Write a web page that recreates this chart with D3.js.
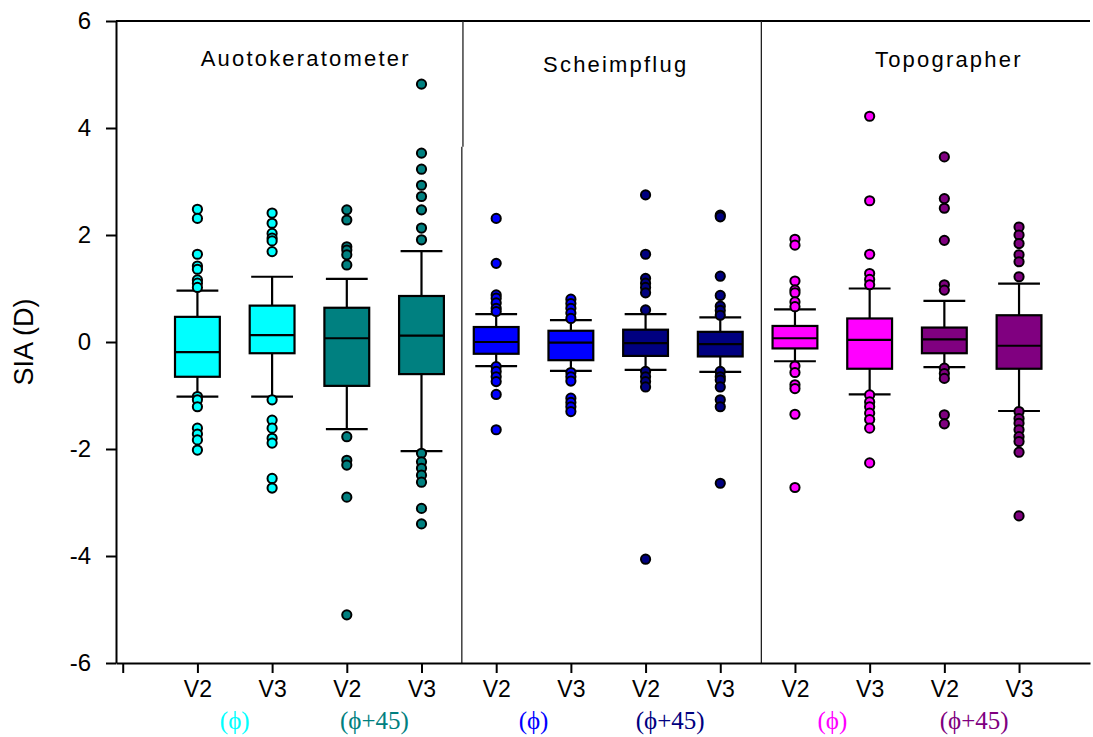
<!DOCTYPE html>
<html>
<head>
<meta charset="utf-8">
<script src="https://cdn.jsdelivr.net/npm/d3@7"></script>
<style>
  body { margin: 0; background: #fff; }
  svg { display: block; }
  .axis text { font-family: "Liberation Sans", Arial, sans-serif; fill: #000; }
  .axis path, .axis line { stroke: #000; stroke-width: 2px; }
</style>
</head>
<body>
<script>
// groups of instruments and the visit labels under each box
var groups = ["Auotokeratometer", "Scheimpflug", "Topographer"];
var visits = ["V2", "V3", "V2", "V3", "V2", "V3", "V2", "V3", "V2", "V3", "V2", "V3"];
var axisLabels = ["(\u03d5)", "(\u03d5+45)", "(\u03d5)", "(\u03d5+45)", "(\u03d5)", "(\u03d5+45)"];
var yTicks = [-6, -4, -2, 0, 2, 4, 6];

// box statistics, one entry per box (left to right)
var whiskerHigh = [0.96, 1.22, 1.18, 1.70, 0.52, 0.41, 0.52, 0.46, 0.61, 1.00, 0.77, 1.09];
var q3 =          [0.47, 0.68, 0.64, 0.86, 0.28, 0.21, 0.23, 0.19, 0.30, 0.44, 0.27, 0.50];
var median =      [-0.19, 0.13, 0.07, 0.12, 0.00, -0.01, -0.02, -0.04, 0.07, 0.04, 0.05, -0.07];
var q1 =          [-0.65, -0.21, -0.82, -0.60, -0.22, -0.34, -0.26, -0.27, -0.12, -0.50, -0.21, -0.50];
var whiskerLow =  [-1.02, -1.02, -1.63, -2.04, -0.45, -0.54, -0.52, -0.56, -0.36, -0.98, -0.47, -1.29];

var outliers = [
  [2.48, 2.31, 1.64, 1.42, 1.36, 1.16, 1.10, 1.02, -1.02, -1.08, -1.21, -1.61, -1.72, -1.83, -2.02],
  [2.41, 2.22, 2.03, 1.94, 1.89, 1.69, -1.08, -1.46, -1.61, -1.80, -1.89, -2.55, -2.73],
  [2.47, 2.28, 1.78, 1.72, 1.63, 1.44, -1.77, -2.21, -2.30, -2.90, -5.10],
  [4.82, 3.53, 3.23, 2.93, 2.72, 2.47, 2.13, 1.91, -2.08, -2.24, -2.36, -2.49, -2.62, -3.11, -3.40],
  [2.31, 1.47, 0.88, 0.82, 0.73, 0.63, 0.57, -0.46, -0.55, -0.65, -0.74, -0.98, -1.64],
  [0.80, 0.72, 0.63, 0.54, 0.44, -0.57, -0.65, -0.73, -1.05, -1.13, -1.21, -1.30],
  [2.75, 1.64, 1.19, 1.10, 1.02, 0.92, 0.60, -0.55, -0.65, -0.74, -0.84, -4.06],
  [2.37, 2.34, 1.23, 0.87, 0.67, 0.59, 0.50, -0.55, -0.65, -0.71, -0.84, -1.08, -1.21, -2.64],
  [1.92, 1.81, 1.14, 0.97, 0.92, 0.75, 0.66, -0.45, -0.57, -0.80, -0.87, -1.35, -2.72],
  [4.22, 2.64, 1.64, 1.28, 1.17, 1.07, -0.99, -1.12, -1.21, -1.33, -1.45, -1.61, -2.26],
  [3.46, 2.68, 2.50, 1.90, 1.07, 0.97, -0.49, -0.59, -0.68, -1.36, -1.53],
  [2.15, 2.00, 1.84, 1.63, 1.50, 1.22, -1.30, -1.43, -1.52, -1.64, -1.77, -1.86, -2.06, -3.25]
];

// one colour per pair of boxes
var colors = ["#00ffff", "#008080", "#0000ff", "#000080", "#ff00ff", "#800080"];

var W = 1093, H = 737;
var svg = d3.select("body").append("svg")
  .attr("width", W)
  .attr("height", H);

var x = d3.scaleLinear().domain([-0.09, 12.95]).range([116, 1090]);
var y = d3.scaleLinear().domain([-6, 6]).range([663, 21]);

var boxW = x(0.6) - x(0);
var capW = x(0.56) - x(0);

// top frame line
svg.append("line")
  .attr("x1", x.range()[0]).attr("x2", x.range()[1])
  .attr("y1", y(6)).attr("y2", y(6))
  .attr("stroke", "#000").attr("stroke-width", 2);

// dividers between instruments (first one has a small jog as in the original)
svg.append("line")
  .attr("x1", x(4.555)).attr("x2", x(4.555))
  .attr("y1", y(6)).attr("y2", y(3.65))
  .attr("stroke", "#222").attr("stroke-width", 1.3);
svg.append("line")
  .attr("x1", x(4.54)).attr("x2", x(4.54))
  .attr("y1", y(3.65)).attr("y2", y(-6))
  .attr("stroke", "#222").attr("stroke-width", 1.3);
svg.append("line")
  .attr("x1", x(8.55)).attr("x2", x(8.55))
  .attr("y1", y(6)).attr("y2", y(-6))
  .attr("stroke", "#222").attr("stroke-width", 1.3);

// instrument titles
var titleX = [2.45, 6.6, 11.06];
var titleY = [66, 72, 67];
svg.selectAll(".grp")
  .data(groups)
  .enter()
  .append("text")
  .attr("class", "grp")
  .attr("x", (d, i) => x(titleX[i]))
  .attr("y", (d, i) => titleY[i])
  .attr("text-anchor", "middle")
  .style("font-family", "'Liberation Sans', Arial, sans-serif")
  .style("font-size", "22px")
  .style("letter-spacing", "2.2px")
  .text(d => d);

// boxes
var boxes = svg.selectAll(".box")
  .data(visits)
  .enter()
  .append("g")
  .attr("class", "box");

boxes.each(function (d, i) {
  var g = d3.select(this);
  var cx = x(i + 1);
  var col = colors[Math.floor(i / 2)];

  // whisker stems
  g.append("line")
    .attr("x1", cx).attr("x2", cx)
    .attr("y1", y(whiskerHigh[i])).attr("y2", y(q3[i]))
    .attr("stroke", "#000").attr("stroke-width", 2.2);
  g.append("line")
    .attr("x1", cx).attr("x2", cx)
    .attr("y1", y(q1[i])).attr("y2", y(whiskerLow[i]))
    .attr("stroke", "#000").attr("stroke-width", 2.2);
  // caps
  [whiskerHigh[i], whiskerLow[i]].forEach(function (v) {
    g.append("line")
      .attr("x1", cx - capW / 2).attr("x2", cx + capW / 2)
      .attr("y1", y(v)).attr("y2", y(v))
      .attr("stroke", "#000").attr("stroke-width", 2.2);
  });
  // box
  g.append("rect")
    .attr("x", cx - boxW / 2)
    .attr("y", y(q3[i]))
    .attr("width", boxW)
    .attr("height", y(q1[i]) - y(q3[i]))
    .attr("fill", col)
    .attr("stroke", "#000")
    .attr("stroke-width", 2.2);
  // median
  g.append("line")
    .attr("x1", cx - boxW / 2).attr("x2", cx + boxW / 2)
    .attr("y1", y(median[i])).attr("y2", y(median[i]))
    .attr("stroke", "#000").attr("stroke-width", 2.2);
  // outlying points
  g.selectAll("circle")
    .data(outliers[i])
    .enter()
    .append("circle")
    .attr("cx", cx)
    .attr("cy", v => y(v))
    .attr("r", 4.6)
    .attr("fill", col)
    .attr("stroke", "#000")
    .attr("stroke-width", 2);
});

// y axis
svg.append("g")
  .attr("class", "axis")
  .attr("transform", "translate(" + x.range()[0] + ",0)")
  .call(d3.axisLeft(y).tickValues(yTicks).tickSize(10).tickSizeOuter(0).tickPadding(15)
    .tickFormat(d => String(d)))
  .selectAll("text")
  .style("font-size", "24px");

// x axis
svg.append("g")
  .attr("class", "axis")
  .attr("transform", "translate(0," + y(-6) + ")")
  .call(d3.axisBottom(x).tickValues(d3.range(0, 13)).tickSize(10).tickSizeOuter(0).tickPadding(8)
    .tickFormat(k => k === 0 ? "" : visits[k - 1]))
  .selectAll("text")
  .style("font-size", "23px");

// y axis title
svg.append("text")
  .attr("transform", "translate(33," + y(0) + ") rotate(-90)")
  .attr("text-anchor", "middle")
  .style("font-family", "'Liberation Sans', Arial, sans-serif")
  .style("font-size", "27px")
  .text("SIA (D)");

// colour-coded labels under each pair
var labelShift = [0, -0.13, 0, -0.17, 0, -0.1];
svg.selectAll(".pairLabel")
  .data(axisLabels)
  .enter()
  .append("text")
  .attr("class", "pairLabel")
  .attr("x", (d, i) => x(2 * i + 1.5 + labelShift[i]))
  .attr("y", 729)
  .attr("text-anchor", "middle")
  .attr("fill", (d, i) => colors[i])
  .style("font-family", "'Liberation Serif', 'Times New Roman', serif")
  .style("font-size", "25px")
  .text(d => d);
</script>
</body>
</html>
